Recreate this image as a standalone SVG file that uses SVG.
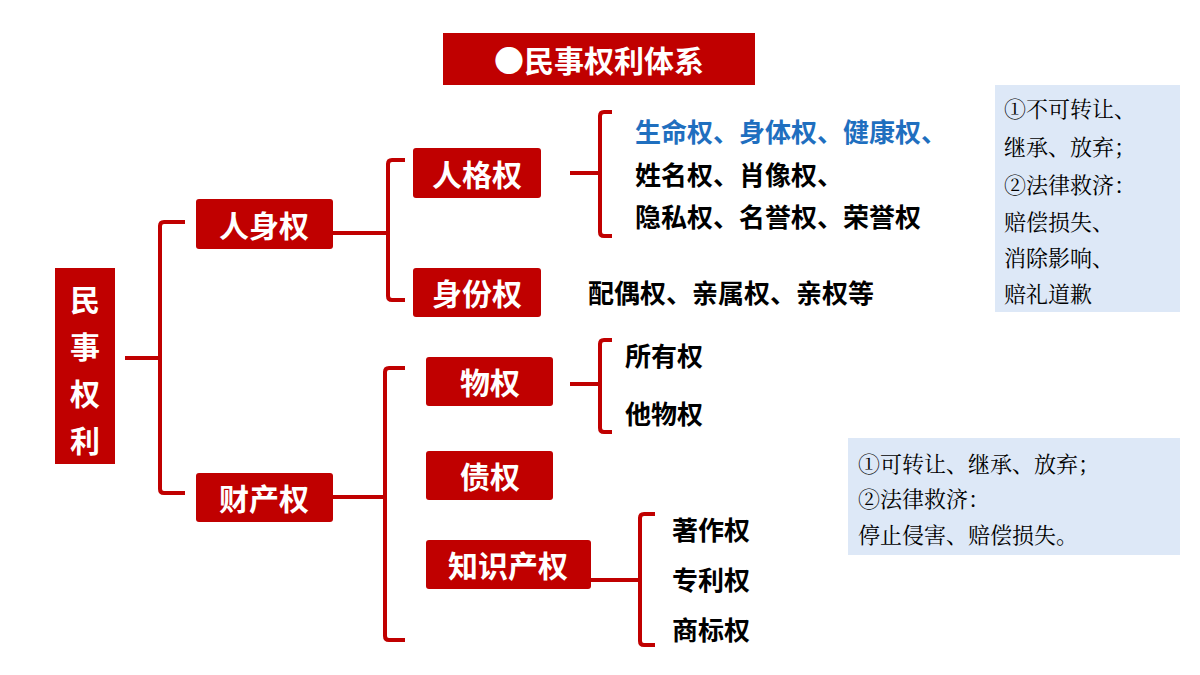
<svg xmlns="http://www.w3.org/2000/svg" width="1200" height="675" viewBox="0 0 1200 675">
<style>
.box{fill:#c00000}
.bt{fill:#fff;font-family:"Noto Sans CJK SC",sans-serif;font-weight:bold;font-size:30px;text-anchor:middle;dominant-baseline:central}
.t{fill:#000;font-family:"Noto Sans CJK SC",sans-serif;font-weight:bold;font-size:26px;dominant-baseline:central}
.note{fill:#000;font-family:"Noto Serif CJK SC","Noto Sans CJK SC",serif;font-size:22px;dominant-baseline:central}
.br{fill:none;stroke:#c00000;stroke-width:4}
</style>
<rect width="1200" height="675" fill="#fff"/>
<g id="title"><rect class="box" x="443" y="33" width="312" height="52"/><text class="bt" x="599" y="59" font-size="34">●民事权利体系</text></g>
<g id="root"><rect class="box" x="55" y="268" width="60" height="196"/>
<text class="bt" x="85" y="298" font-size="36">民</text><text class="bt" x="85" y="345" font-size="36">事</text><text class="bt" x="85" y="392" font-size="36">权</text><text class="bt" x="85" y="439" font-size="36">利</text></g>
<g id="n-renshen"><rect class="box" x="196" y="199" width="137" height="50" rx="3"/><text class="bt" x="264" y="224">人身权</text></g>
<g id="n-caichan"><rect class="box" x="196" y="473" width="137" height="49" rx="3"/><text class="bt" x="264" y="497">财产权</text></g>
<g id="n-renge"><rect class="box" x="413" y="148" width="128" height="50" rx="3"/><text class="bt" x="477" y="173">人格权</text></g>
<g id="n-shenfen"><rect class="box" x="413" y="268" width="128" height="49" rx="3"/><text class="bt" x="477" y="292">身份权</text></g>
<g id="n-wuquan"><rect class="box" x="426" y="357" width="127" height="49" rx="3"/><text class="bt" x="490" y="381">物权</text></g>
<g id="n-zhai"><rect class="box" x="426" y="451" width="127" height="49" rx="3"/><text class="bt" x="490" y="475">债权</text></g>
<g id="n-zhishi"><rect class="box" x="426" y="540" width="165" height="49" rx="3"/><text class="bt" x="508" y="564">知识产权</text></g>
<g id="connectors">
<path class="br" d="M125 358H160M185 222H164Q160 222 160 226V489Q160 493 164 493H185"/>
<path class="br" d="M333 233H388M405 160H392Q388 160 388 164V296Q388 300 392 300H405"/>
<path class="br" d="M333 497H385M405 368H389Q385 368 385 372V636Q385 640 389 640H405"/>
<path class="br" d="M570 173H600M612 112H604Q600 112 600 116V232Q600 236 604 236H612"/>
<path class="br" d="M570 384H600M612 340H604Q600 340 600 344V428Q600 432 604 432H612"/>
<path class="br" d="M591 580H640M655 514H644Q640 514 640 518V641Q640 645 644 645H655"/>
</g>
<g id="leaves">
<text class="t" x="635" y="130" fill="#1f6fbf" style="fill:#1f6fbf">生命权、身体权、健康权、</text>
<text class="t" x="635" y="173">姓名权、肖像权、</text>
<text class="t" x="635" y="215">隐私权、名誉权、荣誉权</text>
<text class="t" x="588" y="291">配偶权、亲属权、亲权等</text>
<text class="t" x="625" y="354">所有权</text>
<text class="t" x="625" y="412">他物权</text>
<text class="t" x="672" y="528">著作权</text>
<text class="t" x="672" y="578">专利权</text>
<text class="t" x="672" y="628">商标权</text>
</g>
<g id="note1"><rect x="995" y="85" width="185" height="227" fill="#dde8f7"/>
<text class="note" x="1004" y="107">①不可转让、</text><text class="note" x="1004" y="145">继承、放弃；</text><text class="note" x="1004" y="183">②法律救济：</text><text class="note" x="1004" y="220">赔偿损失、</text><text class="note" x="1004" y="256">消除影响、</text><text class="note" x="1004" y="292">赔礼道歉</text></g>
<g id="note2"><rect x="848" y="438" width="332" height="117" fill="#dde8f7"/>
<text class="note" x="858" y="462">①可转让、继承、放弃；</text><text class="note" x="858" y="497">②法律救济：</text><text class="note" x="858" y="533">停止侵害、赔偿损失。</text></g>
</svg>
